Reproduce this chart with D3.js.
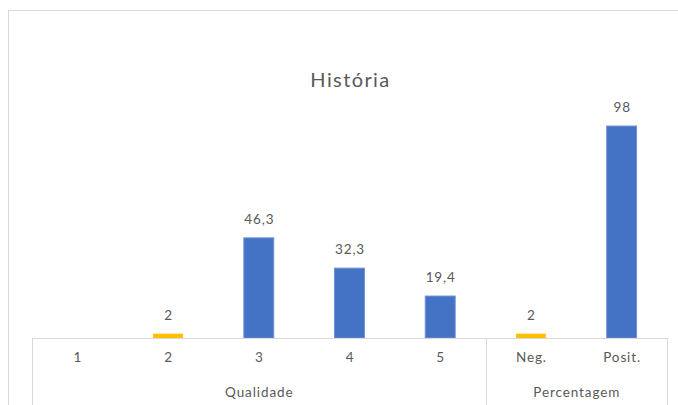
<!DOCTYPE html>
<html><head><meta charset="utf-8">
<script src="https://cdn.jsdelivr.net/npm/d3@7"></script>
<style>body{margin:0;background:#fff}svg{display:block}text{font-family:Lato,"Open Sans",sans-serif;fill:#595959}</style>
</head><body><svg id="c" width="678" height="405"></svg>
<script>
const title = "História";
const categories = ["1","2","3","4","5","Neg.","Posit."];
const values = [0, 2, 46.3, 32.3, 19.4, 2, 98];
const labels = [null, "2", "46,3", "32,3", "19,4", "2", "98"];
const barColors = ["#4472C4","#FFC000","#4472C4","#4472C4","#4472C4","#FFC000","#4472C4"];
const groups = [{name:"Qualidade", from:0, to:4},{name:"Percentagem", from:5, to:6}];

const svg = d3.select("#c");
const W = 678, H = 405;
const base = 338, left = 32, right = 667;
svg.append("rect").attr("x",8.5).attr("y",10.5).attr("width",W+10).attr("height",H+10)
  .attr("fill","#fff").attr("stroke","#d9d9d9");

const x = d3.scaleBand().domain(categories).range([left,right]).padding(0);
const y = d3.scaleLinear().domain([0,120]).range([base, base-120*2.163]);
const bw = x.bandwidth()*0.33;

svg.append("text").attr("x",(left+right)/2+1).attr("y",87).attr("text-anchor","middle")
  .style("font-size","20px").style("letter-spacing","1.4px").text(title);

svg.selectAll("rect.bar").data(categories).join("rect").attr("class","bar")
  .attr("x",d=>x(d)+x.bandwidth()/2-bw/2)
  .attr("y",(d,i)=>y(values[i]))
  .attr("width",bw)
  .attr("height",(d,i)=>base-y(values[i]))
  .attr("fill",(d,i)=>barColors[i])
  .attr("stroke",(d,i)=>barColors[i]==="#4472C4"?"#6f93d6":"none").attr("stroke-width",1);

const fs = "13.5px", ls = "0.9px";
svg.selectAll("text.val").data(categories).join("text").attr("class","val")
  .attr("x",d=>x(d)+x.bandwidth()/2+0.5)
  .attr("y",(d,i)=>y(values[i])-14)
  .attr("text-anchor","middle").style("font-size",fs).style("letter-spacing",ls)
  .text((d,i)=>labels[i]===null?"":labels[i]);

// axis box
const g = svg.append("g").attr("fill","none").attr("stroke","#d9d9d9");
g.append("line").attr("x1",left).attr("x2",right).attr("y1",base+0.5).attr("y2",base+0.5);
const xb = [left, x(categories[groups[1].from]), right];
xb.forEach(v=>g.append("line").attr("x1",Math.round(v)+0.5).attr("x2",Math.round(v)+0.5).attr("y1",base).attr("y2",H));

svg.selectAll("text.cat").data(categories).join("text").attr("class","cat")
  .attr("x",d=>x(d)+x.bandwidth()/2+0.5).attr("y",362).attr("text-anchor","middle")
  .style("font-size",fs).style("letter-spacing",ls).text(d=>d);

svg.selectAll("text.grp").data(groups).join("text").attr("class","grp")
  .attr("x",d=>(x(categories[d.from])+x(categories[d.to])+x.bandwidth())/2+0.5)
  .attr("y",397).attr("text-anchor","middle").style("font-size",fs).style("letter-spacing",ls).text(d=>d.name);
</script></body></html>
